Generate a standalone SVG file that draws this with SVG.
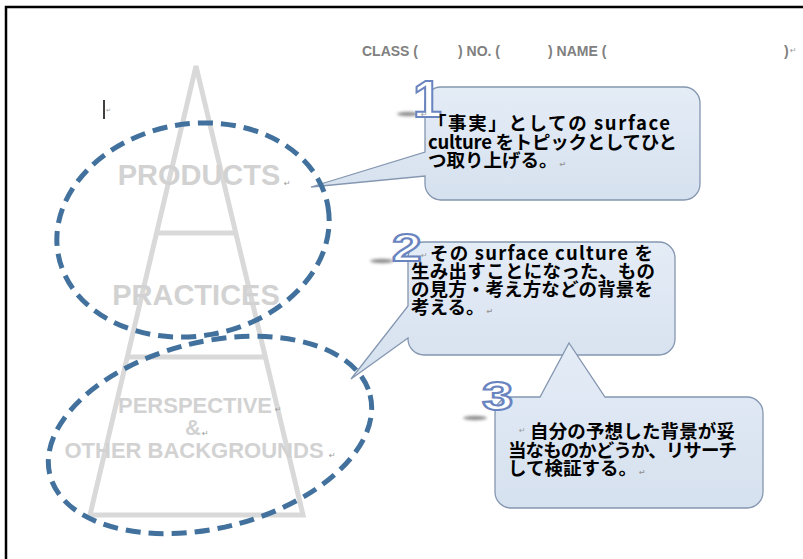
<svg xmlns="http://www.w3.org/2000/svg" width="803" height="559" viewBox="0 0 803 559">
<defs>
<style>
.tower{fill:none;stroke:#d9d9d9;stroke-width:5;stroke-linejoin:miter}
.ttext{font-family:"Liberation Sans",Arial,sans-serif;font-weight:bold;fill:#d2d2d2;text-anchor:middle}
.ret{font-family:"DejaVu Sans",sans-serif;font-size:8px;fill:#9a9a9a}
.hdr{font-family:"Liberation Sans",Arial,sans-serif;font-size:14px;font-weight:bold;fill:#808080}
.call{fill:url(#cg);stroke:#8496b0;stroke-width:1.3}
.jp{font-family:"Noto Sans CJK JP","Noto Sans CJK SC",sans-serif;font-weight:bold;font-size:18.5px;fill:#000}
.ell{fill:none;stroke:#41719c;stroke-width:5;stroke-dasharray:15 8}
.num{font-family:"Liberation Sans",Arial,sans-serif;font-weight:bold;fill:#fff;stroke:#6a84bf;stroke-width:2}
.smudge{fill:#8f8f8f;filter:url(#blur)}
</style>
<linearGradient id="cg" x1="0" y1="0" x2="0" y2="1">
<stop offset="0" stop-color="#e4ecf6"/>
<stop offset="1" stop-color="#d6e1ef"/>
</linearGradient>
<filter id="blur" x="-50%" y="-200%" width="200%" height="500%"><feGaussianBlur stdDeviation="1.6"/></filter>
</defs>
<rect width="803" height="559" fill="#fff"/>
<path d="M6,559 V7 H803" fill="none" stroke="#000" stroke-width="2.5"/>
<g id="header">
<text class="hdr" x="362" y="56">CLASS (</text>
<text class="hdr" x="458" y="56">) NO. (</text>
<text class="hdr" x="548" y="56">) NAME (</text>
<text class="hdr" x="784" y="56">)</text>
<text class="ret" x="790" y="53">↵</text>
</g>
<g id="cursor">
<line x1="104" y1="100" x2="104" y2="119" stroke="#000" stroke-width="1.5"/>
<text class="ret" x="106" y="112" style="font-size:6px">↵</text>
</g>
<g id="tower">
<path class="tower" d="M90,515 L196,66 L303,515 Z"/>
<line class="tower" x1="157" y1="233" x2="236" y2="233"/>
<line class="tower" x1="127" y1="357" x2="265" y2="357"/>
<text class="ttext" x="199" y="185" font-size="29">PRODUCTS</text>
<text class="ret" x="284" y="186">↵</text>
<text class="ttext" x="196" y="305" font-size="29">PRACTICES</text>
<text class="ttext" x="195" y="413" font-size="22">PERSPECTIVE</text>
<text class="ret" x="275" y="412">↵</text>
<text class="ttext" x="193" y="435" font-size="22">&amp;</text>
<text class="ret" x="202" y="436">↵</text>
<text class="ttext" x="194" y="458" font-size="22">OTHER BACKGROUNDS</text>
<text class="ret" x="329" y="458">↵</text>
</g>
<g id="callout1">
<path class="call" d="M441,87 H684 A16,16 0 0 1 700,103 V184 A16,16 0 0 1 684,200 H441 A16,16 0 0 1 425,184 V176 L311,187 L425,152 V103 A16,16 0 0 1 441,87 Z"/>
<ellipse class="smudge" cx="408" cy="114" rx="11" ry="2.2"/>
<text class="num" x="413" y="117" font-size="52">1</text>
<text class="ret" x="421" y="117">↵</text>
<text class="jp" x="428" y="130" textLength="242">「事実」としての surface</text>
<text class="jp" x="428" y="148.5" textLength="249">culture をトピックとしてひと</text>
<text class="jp" x="428" y="167">つ取り上げる。<tspan class="ret" dx="2">↵</tspan></text>
</g>
<g id="callout2">
<path class="call" d="M424,242 H659 A16,16 0 0 1 675,258 V339 A16,16 0 0 1 659,355 H424 A16,16 0 0 1 408,339 V338 L351,379 L408,306 V258 A16,16 0 0 1 424,242 Z"/>
<ellipse class="smudge" cx="382" cy="261" rx="12" ry="2.2"/>
<text class="num" transform="translate(392,261) scale(1.4,1)" x="0" y="0" font-size="38">2</text>
<text class="ret" x="421" y="258">↵</text>
<text class="jp" x="430" y="260" textLength="223">その surface culture を</text>
<text class="jp" x="411" y="278" textLength="244">生み出すことになった、もの</text>
<text class="jp" x="411" y="296" textLength="242">の見方・考え方などの背景を</text>
<text class="jp" x="411" y="314">考える。<tspan class="ret" dx="2">↵</tspan></text>
</g>
<g id="callout3">
<path class="call" d="M511,397 H540 L569,343 L605,397 H747 A16,16 0 0 1 763,413 V492 A16,16 0 0 1 747,508 H511 A16,16 0 0 1 495,492 V413 A16,16 0 0 1 511,397 Z"/>
<ellipse class="smudge" cx="475" cy="418" rx="12" ry="2.2"/>
<text class="num" transform="translate(482,410) scale(1.4,1)" x="0" y="0" font-size="40">3</text>
<text class="ret" x="519" y="433">↵</text>
<text class="jp" x="530" y="438" textLength="205">自分の予想した背景が妥</text>
<text class="jp" x="508" y="456.5" textLength="229">当なものかどうか、リサーチ</text>
<text class="jp" x="508" y="475">して検証する。<tspan class="ret" dx="2">↵</tspan></text>
</g>
<g id="connectors">
<ellipse class="ell" cx="193" cy="230" rx="137" ry="106" transform="rotate(-10 193 230)"/>
<ellipse class="ell" cx="210" cy="435" rx="165" ry="93" transform="rotate(-14 210 435)"/>
</g>
</svg>
